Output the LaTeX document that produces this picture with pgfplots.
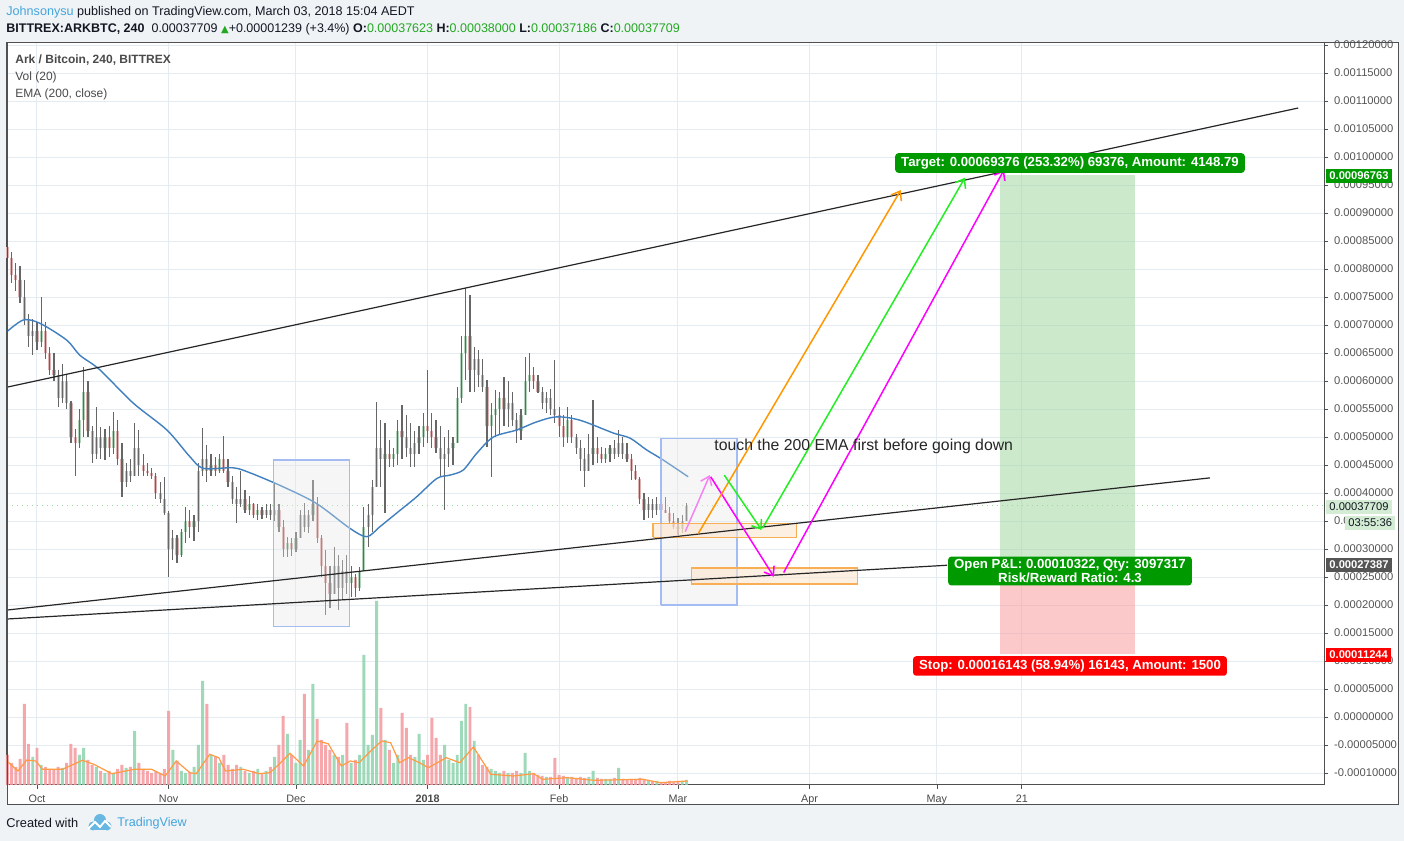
\documentclass[border=0pt]{standalone}
\usepackage{pgfplots}
\pgfplotsset{compat=1.18}
\usepackage{pgfplotstable}
\usepackage{fontspec}
\setmainfont{Liberation Sans}
\newfontfamily\dejavu{DejaVu Sans}
\usetikzlibrary{arrows.meta}

\definecolor{pagebg}{HTML}{F0F3F6}
\definecolor{gridc}{HTML}{E4ECF2}
\definecolor{axc}{HTML}{505050}
\definecolor{tickc}{HTML}{555555}
\definecolor{wick}{HTML}{666666}
\definecolor{bodyup}{HTML}{B3D2BC}
\definecolor{bodydn}{HTML}{DDB3B3}
\definecolor{volup}{HTML}{8ED3AD}
\definecolor{voldn}{HTML}{F4989E}
\definecolor{volma}{HTML}{FF9B45}
\definecolor{ema}{HTML}{3F7FBF}
\definecolor{boxfill}{HTML}{E6E6E6}
\definecolor{boxedge}{HTML}{A3BDF3}
\definecolor{obfill}{HTML}{FBE6CF}
\definecolor{obedge}{HTML}{F7AE55}
\definecolor{tvgreen}{HTML}{009A00}
\definecolor{tvred}{HTML}{FF0000}
\definecolor{tvblue}{HTML}{42A5DC}
\definecolor{valg}{HTML}{22A822}
\definecolor{zoneg}{HTML}{9BD59B}
\definecolor{zoner}{HTML}{F99595}
\definecolor{curg}{HTML}{D3ECD3}
\definecolor{curline}{HTML}{9FD89F}
\definecolor{darkbox}{HTML}{555555}
\definecolor{arrorange}{HTML}{FF9800}
\definecolor{arrgreen}{HTML}{22EE22}
\definecolor{arrmag}{HTML}{FF00FF}
\definecolor{arrpink}{HTML}{F484F4}
\definecolor{txt}{HTML}{131722}
\definecolor{legtxt}{HTML}{4A4A4A}

% day index d = days after 2017-10-01; prices in units of 0.00001 BTC; v = volume (relative)
\pgfplotstableread{
d o h l c v
-7 84 86 80 82 30
-6 82 83 77.5 79 22
-5 79 81 76 78 18
-4 78 80.5 74 75 26
-3 75 78 70 71 81
-2 71 72 66 68 41
-1 68 71 64.6 69 28
0 69 70.5 65.5 67 37
1 67 75 66 69 20
2 69 70.5 64 65 18
3 65 66 61 62 16
4 62 65 60 61 15
5 61 62 55.4 57 18
6 57 63 56 60 17
7 60 61 55 56 22
8 56 56.5 49 50 41
9 50 51.5 43 49 37
10 49 55 48 53 30
11 53 62.5 50 58 37
12 58 60 50 51 25
13 51 52 45.3 47 20
14 47 55.4 46 50 18
15 50 51.8 46 48 14
16 48 51.5 45.9 50 12
17 50 52 46.5 48 14
18 48 54.5 47 51 12
19 51 53 45 46 16
20 46 48.9 39.3 42 20
21 42 45.3 41.1 44 17
22 44 46 42 43 18
23 43 52.5 43 48 54
24 48 51.2 43 45 22
25 45 47 43 44 16
26 44 45.3 43 43.5 14
27 43.5 44.5 42.5 43 12
28 43 43.5 39 40 14
29 40 42 38.2 39 12
30 39 42.9 36 36.5 16
31 36.5 36.8 25 30 74
32 30 33.4 28 32 35
33 32 32.5 27.5 29 24
34 29 33.5 28.5 33 14
35 33 37.5 31 35 12
36 35 37 32 34 13
37 34 36 31.5 35 18
38 35 45.3 33 44 40
39 44 51.6 43 46 104
40 46 48.5 42 44 81
41 44 47 43 45 30
42 45 46.4 43 44 28
43 44 47 43.5 46 22
44 46 50.2 43.5 44 30
45 44 46 41 42 20
46 42 43 38 39 16
47 39 41 34.6 38 20
48 38 44 37.5 39 18
49 39 40.5 36.4 37 14
50 37 39.5 36 38 12
51 38 38.2 35.5 36 14
52 36 38 35.2 37 16
53 37 37.5 35.3 36 12
54 36 38 35.5 37 14
55 37 38 35.2 36 18
56 36 42 35 37 28
57 37 38 33 34 40
58 34 35.2 28.6 30 69
59 30 32.1 28.6 31 51
60 31 32 28.8 30 30
61 30 33 29.5 32 22
62 32 37 32 36 45
63 36 38.2 33 34 91
64 34 37 32.9 36 35
65 36 42.3 35 38 101
66 38 39.3 31 32 66
67 32 32.5 25 27 45
68 27 29.8 18.3 24 40
69 24 27 19.5 22 35
70 22 30.4 22 27 30
71 27 29 19.1 23 28
72 23 28 21 26 30
73 26 29 22 24 62
74 24 27 21.4 25 22
75 25 25.5 21.5 23 25
76 23 26.8 22.5 26 30
77 26 37.5 26 34 130
78 34 38 30.4 36 40
79 36 42.3 33 41 50
80 41 56.2 41 48 184
81 48 53 41 46 77
82 46 52.5 36.4 47 45
83 47 49.5 44.6 46 35
84 46 48 44.6 47 22
85 47 53 45 51 30
86 51 55.8 46 50 72
87 50 54 46.5 48 57
88 48 52.5 44.6 47 30
89 47 51 44.6 49 28
90 49 52 47 50 51
91 50 54.3 48.2 52 25
92 52 62 49 51 30
93 51 54.3 48 50 67
94 50 53 47.1 48 47
95 48 52 42.9 46 30
96 46 50 37 47 40
97 47 51.3 44.6 48 25
98 48 50 45 49 22
99 49 59 49 57 30
100 57 68 56 65 64
101 65 76.6 60.2 68 81
102 68 75.4 58 62 78
103 62 66 58 64 44
104 64 65.5 59 61 30
105 61 64 58 59 20
106 59 60.2 48.2 52 18
107 52 56 42.9 54 16
108 54 58.4 50 55 14
109 55 58 50.5 57 12
110 57 60.7 52 55 14
111 55 60 51.8 56 12
112 56 58 52 53 12
113 53 54.3 48.9 51 14
114 51 55 49.5 54 12
115 54 64.3 54 60 32
116 60 65 58 61 14
117 61 62.5 58.5 60 12
118 60 61 57.9 58 10
119 58 59 55 56 9
120 56 58 54.3 57 8
121 57 58.5 54 55 8
122 55 63.75 52.5 54 27
123 54 55.4 50 52 10
124 52 54 48.2 50 9
125 50 55.4 49 53 8
126 53 54 49 50 8
127 50 50.5 47 48 7
128 48 49.5 44 46 8
129 46 48 41.1 44 7
130 44 50.6 44 47 8
131 47 56.6 45 48 14
132 48 50 45.3 47 7
133 47 48.2 45.3 46 6
134 46 48 45.3 47 6
135 47 48.5 45.5 48 6
136 48 49.5 46 47 7
137 47 51.2 46.5 49 17
138 49 50 46 47 6
139 47 49 45.5 46 5
140 46 47 42.3 44 6
141 44 45 42.3 42.5 6
142 42.5 42.8 38 39 7
143 39 40 35.2 37 6
144 37 39.3 35.5 38 5
145 38 39 35.5 37 4
146 37 39.3 36 38 4
147 38 39 36 37 3
148 37 39.3 36.4 36.5 3
149 36.5 37.5 34.5 35 4
150 35 36.4 33.5 34 3
151 34 35.5 32.5 33.5 4
152 33.5 36 32.9 35 4
153 35 38.2 35 37.7 5
}\candles

\begin{document}
\begin{tikzpicture}
% ---- page & frame (pixel coordinates) ----
\begin{scope}[x=0.5pt,y=-0.5pt,shift={(0pt,420.5pt)}]
\fill[pagebg] (0,0) rectangle (1404,841);
\fill[white] (7,43) rectangle (1398,805);
\end{scope}

% ---- price axis ----
\begin{axis}[
  at={(3.5pt,28pt)}, anchor=south west,
  scale only axis, width=658.5pt, height=371pt,
  xmin=-7.067, xmax=303.18, ymin=-12.14, ymax=120.36,
  axis line style={draw=axc, line width=0.5pt},
  xtick={0,31,61,92,123,151,182,212,232},
  xticklabels={Oct,Nov,Dec,\textbf{2018},Feb,Mar,Apr,May,21},
  ytick={-10,-5,0,5,10,15,20,25,30,35,40,45,50,55,60,65,70,75,80,85,90,95,100,105,110,115,120},
  yticklabels={-0.00010000,-0.00005000,0.00000000,0.00005000,0.00010000,0.00015000,0.00020000,0.00025000,0.00030000,0.00035000,0.00040000,0.00045000,0.00050000,0.00055000,0.00060000,0.00065000,0.00070000,0.00075000,0.00080000,0.00085000,0.00090000,0.00095000,0.00100000,0.00105000,0.00110000,0.00115000,0.00120000},
  yticklabel pos=right, ytick pos=right, xtick pos=bottom, tick align=outside,
  major tick length=2pt, tick style={draw=axc, line width=0.4pt},
  yticklabel style={font=\fontsize{5.6}{6}\selectfont, text=tickc, xshift=-0.5pt},
  xticklabel style={font=\fontsize{5.4}{6}\selectfont, text=legtxt, yshift=0.6pt},
  grid=major, major grid style={draw=gridc, line width=0.5pt},
  clip=false,
]
% long position zones
\addplot[draw=none, fill=zoneg, fill opacity=0.5] coordinates {(226.9,27.387)(258.7,27.387)(258.7,96.763)(226.9,96.763)};
\addplot[draw=none, fill=zoner, fill opacity=0.5] coordinates {(226.9,11.244)(258.7,11.244)(258.7,27.387)(226.9,27.387)};
% current price line
\addplot[curline, dotted, line width=0.5pt] coordinates {(-7.067,37.709)(303.18,37.709)};
% candle bodies
\addplot[draw=none, mark=none, error bars/.cd, y dir=both, y explicit, error mark=none,
  error bar style={draw=bodyup, line width=1.6pt, solid}]
  table[x=d, y expr={\thisrow{c}>=\thisrow{o} ? (\thisrow{o}+\thisrow{c})/2 : nan},
        y error expr={abs(\thisrow{c}-\thisrow{o})/2}] {\candles};
\addplot[draw=none, mark=none, error bars/.cd, y dir=both, y explicit, error mark=none,
  error bar style={draw=bodydn, line width=1.6pt, solid}]
  table[x=d, y expr={\thisrow{c}<\thisrow{o} ? (\thisrow{o}+\thisrow{c})/2 : nan},
        y error expr={abs(\thisrow{c}-\thisrow{o})/2}] {\candles};
% wicks
\addplot[draw=none, mark=none, error bars/.cd, y dir=both, y explicit, error mark=none,
  error bar style={draw=wick, line width=0.6pt, solid}]
  table[x=d, y expr={(\thisrow{h}+\thisrow{l})/2}, y error expr={(\thisrow{h}-\thisrow{l})/2}] {\candles};
% EMA 200
\addplot[ema, line width=0.7pt, smooth] coordinates {
(-7.1,68.8)(-3.2,70.9)(0.7,70.3)(7,67.3)(10.1,64.6)(14.8,62)(22.6,56.1)(30.6,51.25)(36,46.5)(39.2,44.4)
(46.2,44.5)(50.2,43.6)(58,41.1)(65.9,38.1)(73.7,33.7)(77.7,32.2)(80.8,34)(84.7,36.4)(89.4,39.3)(94.2,42.6)
(97.3,43.2)(100.4,44.1)(103.6,47.1)(107.5,50)(113,51.25)(117.7,52.7)(122.4,53.6)(127.9,53)(135.8,50.7)
(139.7,49.8)(143.6,47.7)(147.5,45.9)(153.4,42.9)};
% grey boxes
\addplot[draw=boxedge, line width=0.6pt, fill=boxfill, fill opacity=0.35] coordinates {(55.8,16.1)(73.7,16.1)(73.7,45.9)(55.8,45.9)(55.8,16.1)};
\addplot[draw=boxedge, line width=0.6pt, fill=boxfill, fill opacity=0.35] coordinates {(147,20)(164.9,20)(164.9,49.8)(147,49.8)(147,20)};
% orange zones
\addplot[draw=obedge, line width=0.6pt, fill=obfill, fill opacity=0.6] coordinates {(145.1,32.1)(179,32.1)(179,34.5)(145.1,34.5)(145.1,32.1)};
\addplot[draw=obedge, line width=0.6pt, fill=obfill, fill opacity=0.6] coordinates {(154.1,23.75)(193.2,23.75)(193.2,26.6)(154.1,26.6)(154.1,23.75)};
% trend lines
\addplot[black!85, line width=0.6pt] coordinates {(-7.07,58.9)(297.1,108.75)};
\addplot[black!85, line width=0.6pt] coordinates {(-7.07,19.1)(276.3,42.7)};
\addplot[black!85, line width=0.6pt] coordinates {(-7.07,17.5)(214.4,27.1)};
% arrows
\addplot[arrpink, line width=0.75pt, -{Straight Barb[length=4pt,width=6pt]}] coordinates {(152.7,33.1)(158.5,43.2)};
\addplot[arrmag, line width=0.75pt, -{Straight Barb[length=4pt,width=6pt]}] coordinates {(158.7,42.9)(173.6,25.05)};
\addplot[arrmag, line width=0.75pt, -{Straight Barb[length=4pt,width=6pt]}] coordinates {(175.9,25.8)(227.8,97.7)};
\addplot[arrorange, line width=0.75pt, -{Straight Barb[length=4pt,width=6pt]}] coordinates {(155.8,32.8)(203.5,94.1)};
\addplot[arrgreen, line width=0.75pt, -{Straight Barb[length=4pt,width=6pt]}] coordinates {(161.9,43.2)(170.7,33.4)};
\addplot[arrgreen, line width=0.75pt, -{Straight Barb[length=4pt,width=6pt]}] coordinates {(170.9,33.7)(218.6,96.3)};
\end{axis}

% ---- volume pane (same frame, own scale) ----
\begin{axis}[
  at={(3.5pt,28pt)}, anchor=south west,
  scale only axis, width=658.5pt, height=371pt,
  xmin=-7.067, xmax=303.18, ymin=0, ymax=742,
  hide axis, clip=false,
]
\addplot[ybar, bar shift=0pt, bar width=0.7, draw=none, fill=volup, fill opacity=0.85]
  table[x=d, y expr={\thisrow{c}>=\thisrow{o} ? \thisrow{v} : nan}] {\candles};
\addplot[ybar, bar shift=0pt, bar width=0.7, draw=none, fill=voldn, fill opacity=0.85]
  table[x=d, y expr={\thisrow{c}<\thisrow{o} ? \thisrow{v} : nan}] {\candles};
\addplot[volma, line width=0.6pt] coordinates {
(-7.1,24)(-4.5,14)(-2.4,25)(-0.3,24)(1.3,15.7)(6,15.7)(10.7,24.7)(13.4,20.7)(17.6,11.3)(22.9,15.7)(27,15.7)
(30.2,9)(32.8,24)(36,12.3)(37.5,11.3)(40.7,30.7)(42.8,27.3)(44.4,14)(48.6,15.7)(52.3,11.3)(54.9,12.3)(57,20.7)
(59.6,31.7)(62.8,19)(66,44)(68.6,41.3)(71.7,19)(73.8,24)(75.9,22.3)(78.6,34)(81.2,44)(83.3,42.3)(85.4,22.3)
(87.5,27.3)(90.1,22.3)(92.2,17.3)(96.4,27.3)(99.6,22.3)(102.8,38)(105.4,20.7)(106.9,10.7)(112.2,9)(117,11.3)
(119.1,5.7)(124.9,7.3)(131.2,4.7)(142.7,5.7)(146.9,2.3)(153.2,4)};
\end{axis}

% ---- annotations (pixel coordinates) ----
\begin{scope}[x=0.5pt,y=-0.5pt,shift={(0pt,420.5pt)}]
\draw[axc, line width=0.5pt] (7,43) rectangle (1398,805);
% header
\node[anchor=west, inner sep=0pt, font=\fontsize{6.3}{7}\selectfont, text=txt] at (6,12)
  {\textcolor{tvblue}{Johnsonysu} published on TradingView.com, March 03, 2018 15:04 AEDT};
\node[anchor=west, inner sep=0pt, font=\fontsize{6.25}{7}\selectfont, text=txt] at (6,29)
  {\textbf{BITTREX:ARKBTC, 240}\ \ 0.00037709 \textcolor{valg}{\dejavu\fontsize{5}{6}\selectfont ▲}+0.00001239 (+3.4\%) \textbf{O:}\textcolor{valg}{0.00037623} \textbf{H:}\textcolor{valg}{0.00038000} \textbf{L:}\textcolor{valg}{0.00037186} \textbf{C:}\textcolor{valg}{0.00037709}};
% legend
\node[anchor=west, inner sep=0pt, font=\bfseries\fontsize{6}{7}\selectfont, text=legtxt] at (15,60) {Ark / Bitcoin, 240, BITTREX};
\node[anchor=west, inner sep=0pt, font=\fontsize{6}{7}\selectfont, text=legtxt] at (15,77) {Vol (20)};
\node[anchor=west, inner sep=0pt, font=\fontsize{6}{7}\selectfont, text=legtxt] at (15,94) {EMA (200, close)};
% annotation text
\node[anchor=west, inner sep=0pt, font=\fontsize{7.9}{9}\selectfont, text=black!85] at (714,446) {touch the 200 EMA first before going down};
% position labels
\node[fill=tvgreen, text=white, rounded corners=1.5pt, inner xsep=3pt, inner ysep=1.8pt, font=\bfseries\fontsize{6.6}{7.5}\selectfont] at (1070,163)
  {Target: 0.00069376 (253.32\%) 69376, Amount: 4148.79};
\node[fill=tvgreen, text=white, rounded corners=1.5pt, inner xsep=3pt, inner ysep=1.5pt, align=center, font=\bfseries\fontsize{6.6}{6.6}\selectfont] at (1070,571)
  {Open P\&L: 0.00010322, Qty: 3097317\\Risk/Reward Ratio: 4.3};
\node[fill=tvred, text=white, rounded corners=1.5pt, inner xsep=3pt, inner ysep=1.8pt, font=\bfseries\fontsize{6.6}{7.5}\selectfont] at (1070,666)
  {Stop: 0.00016143 (58.94\%) 16143, Amount: 1500};
% right price tags
\node[fill=tvgreen, text=white, anchor=west, inner xsep=1.5pt, inner ysep=1.5pt, font=\bfseries\fontsize{5.6}{6}\selectfont] at (1326,176) {0.00096763};
\node[fill=curg, text=txt, anchor=west, inner xsep=1.5pt, inner ysep=1.5pt, font=\fontsize{5.6}{6}\selectfont] at (1326,507) {0.00037709};
\node[fill=curg, text=txt, anchor=west, inner xsep=1.5pt, inner ysep=1.5pt, font=\fontsize{5.6}{6}\selectfont] at (1345,523) {03:55:36};
\node[fill=darkbox, text=white, anchor=west, inner xsep=1.5pt, inner ysep=1.5pt, font=\bfseries\fontsize{5.6}{6}\selectfont] at (1326,565) {0.00027387};
\node[fill=tvred, text=white, anchor=west, inner xsep=1.5pt, inner ysep=1.5pt, font=\bfseries\fontsize{5.6}{6}\selectfont] at (1326,655) {0.00011244};
% footer
\node[anchor=west, inner sep=0pt, font=\fontsize{6.4}{7}\selectfont, text=txt] at (6,823) {Created with};
\fill[tvblue!80] (93,826) circle (4.5) (100,820) circle (6) (107,826) circle (4.5);
\fill[tvblue!80] (93,822) rectangle (107,830.5);
\draw[white, line width=0.9pt] (88,829) -- (95,822) -- (100,827) -- (105,821) -- (111,827);
\node[anchor=west, inner sep=0pt, font=\fontsize{6.3}{7}\selectfont, text=tvblue] at (117,823) {TradingView};
\end{scope}
\end{tikzpicture}
\end{document}
